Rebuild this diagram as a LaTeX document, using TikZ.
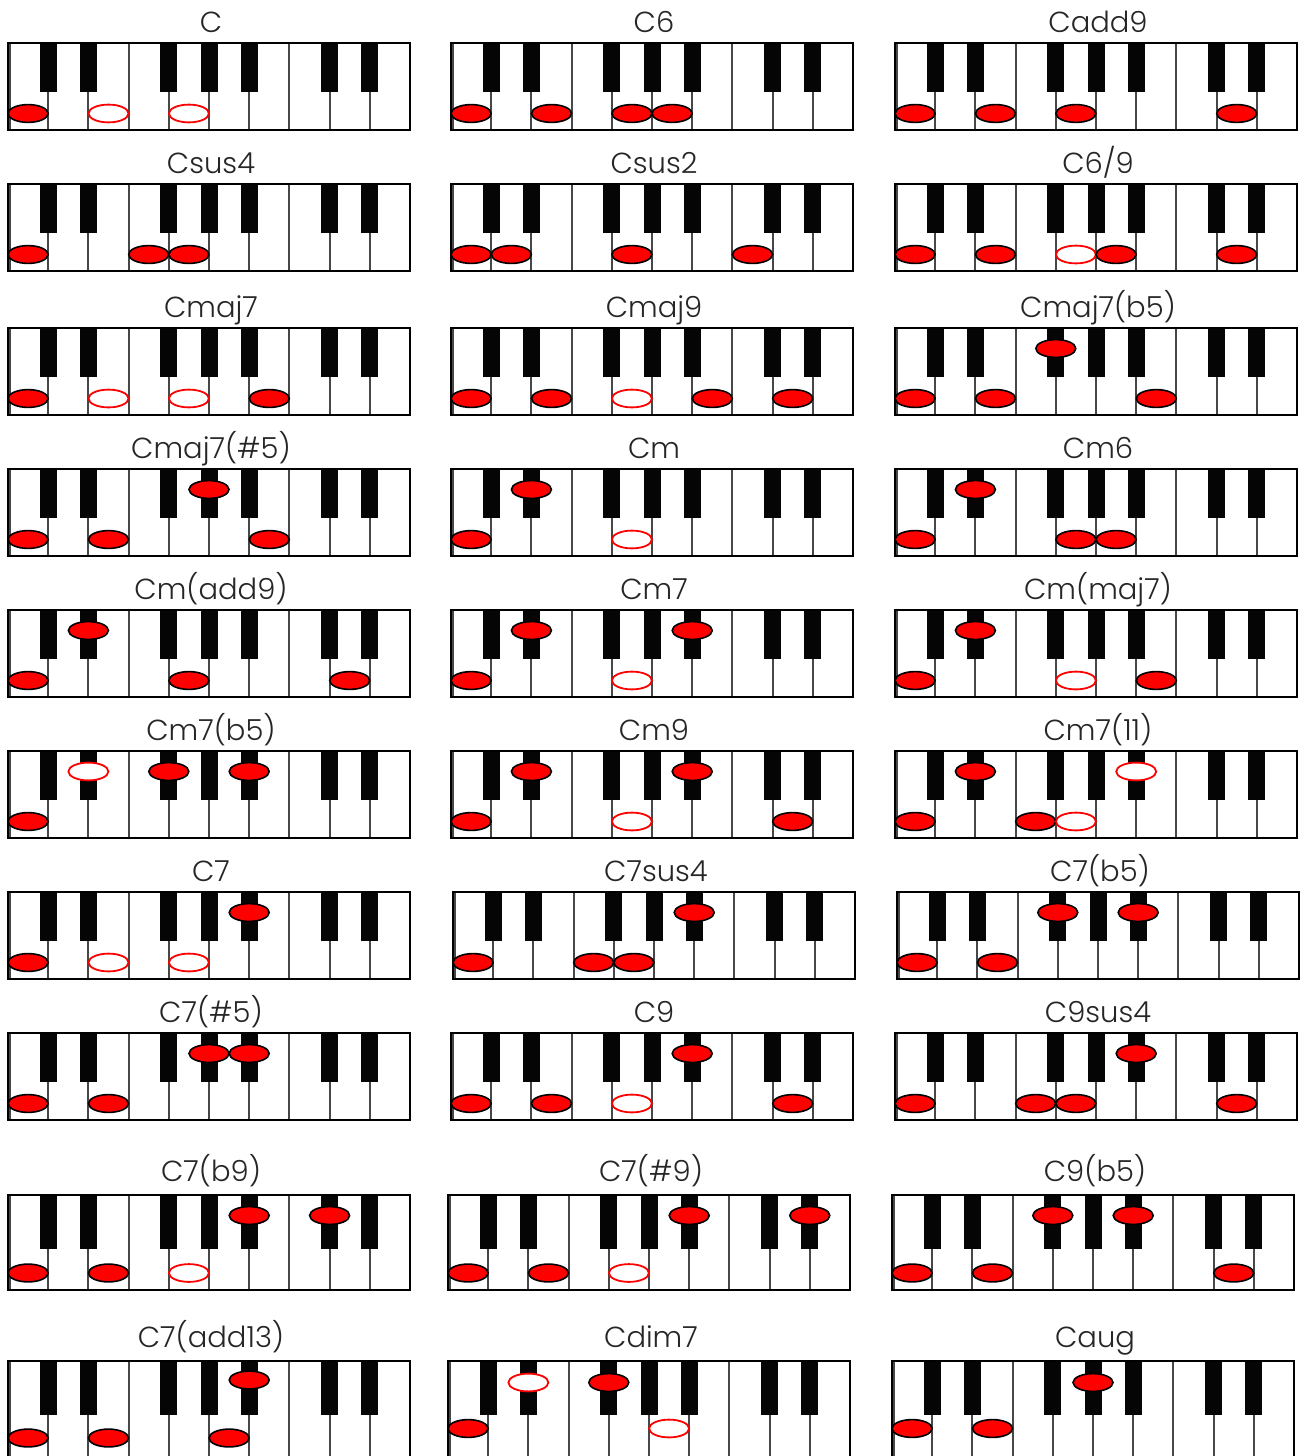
\documentclass[tikz,border=0pt]{standalone}
\usepackage{fontspec}
\setmainfont{Poppins}[UprightFont=* Light]
\definecolor{notered}{RGB}{255,0,0}
\tikzset{
  sep/.style={draw=black!72,line width=2pt},
  bkey/.style={fill=black!98},
  frame/.style={draw=black,line width=1.5pt},
  ttl/.style={font=\fontsize{29}{31}\selectfont,anchor=base,inner sep=0pt,text=black!85},
  nf/.style={fill=notered,draw=black,line width=1.6pt},
  nh/.style={fill=white,draw=notered,line width=1.8pt},
}
\def\W{40.2}
\newcommand\kbrow[4]{\def\kh{#1}\def\kbh{#2}\def\kwy{#3}\def\kby{#4}}
\newcommand\notewf[1]{\draw[nf] ({(#1+0.5)*\W},\kwy) ellipse [x radius=20,y radius=8.9];}
\newcommand\notewh[1]{\draw[nh] ({(#1+0.5)*\W},\kwy) ellipse [x radius=20,y radius=8.9];}
\newcommand\notebf[1]{\draw[nf] ({#1*\W},\kby) ellipse [x radius=20,y radius=8.9];}
\newcommand\notebh[1]{\draw[nh] ({#1*\W},\kby) ellipse [x radius=20,y radius=8.9];}
\newcommand\kb[6]{% x0, top, name, title, title offset, notes
  \begin{scope}[shift={(#1,#2)}]
    \fill[white] (0,0) rectangle (10*\W,\kh);
    \foreach \i in {1,...,9} \draw[sep] (\i*\W,0) -- (\i*\W,\kh);
    \draw[sep] (2,0) -- (2,\kh);
    \foreach \k in {1,2,4,5,6,8,9} \fill[bkey] (\k*\W-8.5,0) rectangle (\k*\W+8.5,\kbh);
    \draw[frame] (0,0) rectangle (10*\W,\kh);
    \node[ttl] (#3) at (5*\W+2,-#5) {#4};
    \foreach \t/\p in {#6} {\csname note\t\endcsname{\p}}
  \end{scope}}
\begin{document}
\begin{tikzpicture}[x=1pt,y=-1pt]
\useasboundingbox (0,0) rectangle (1304,1456);
\clip (0,0) rectangle (1304,1456);
\fill[white] (0,0) rectangle (1304,1456);
% row 1
\kbrow{87}{49}{70.5}{20.5}
\kb{8}{43}{t1}{C}{11}{wf/0,wh/2,wh/4}
\kb{451}{43}{t2}{C6}{11}{wf/0,wf/2,wf/4,wf/5}
\kb{895}{43}{t3}{Cadd9}{11}{wf/0,wf/2,wf/4,wf/8}
% row 2
\kb{8}{184}{t4}{Csus4}{11}{wf/0,wf/3,wf/4}
\kb{451}{184}{t5}{Csus2}{11}{wf/0,wf/1,wf/4,wf/7}
\kb{895}{184}{t6}{C6/9}{11}{wf/0,wf/2,wh/4,wf/5,wf/8}
% row 3
\kb{8}{328}{t7}{Cmaj7}{11}{wf/0,wh/2,wh/4,wf/6}
\kb{451}{328}{t8}{Cmaj9}{11}{wf/0,wf/2,wh/4,wf/6,wf/8}
\kb{895}{328}{t9}{Cmaj7(b5)}{11}{wf/0,wf/2,bf/4,wf/6}
% row 4
\kb{8}{469}{t10}{Cmaj7(\#5)}{11}{wf/0,wf/2,bf/5,wf/6}
\kb{451}{469}{t11}{Cm}{11}{wf/0,bf/2,wh/4}
\kb{895}{469}{t12}{Cm6}{11}{wf/0,bf/2,wf/4,wf/5}
% row 5
\kb{8}{610}{t13}{Cm(add9)}{11}{wf/0,bf/2,wf/4,wf/8}
\kb{451}{610}{t14}{Cm7}{11}{wf/0,bf/2,wh/4,bf/6}
\kb{895}{610}{t15}{Cm(maj7)}{11}{wf/0,bf/2,wh/4,wf/6}
% row 6
\kb{8}{751}{t16}{Cm7(b5)}{11}{wf/0,bh/2,bf/4,bf/6}
\kb{451}{751}{t17}{Cm9}{11}{wf/0,bf/2,wh/4,bf/6,wf/8}
\kb{895}{751}{t18}{Cm7(11)}{11}{wf/0,bf/2,wf/3,wh/4,bh/6}
% row 7
\kb{8}{892}{t19}{C7}{11}{wf/0,wh/2,wh/4,bf/6}
\kb{453}{892}{t20}{C7sus4}{11}{wf/0,wf/3,wf/4,bf/6}
\kb{897}{892}{t21}{C7(b5)}{11}{wf/0,wf/2,bf/4,bf/6}
% row 8
\kb{8}{1033}{t22}{C7(\#5)}{11}{wf/0,wf/2,bf/5,bf/6}
\kb{451}{1033}{t23}{C9}{11}{wf/0,wf/2,wh/4,bf/6,wf/8}
\kb{895}{1033}{t24}{C9sus4}{11}{wf/0,wf/3,wf/4,bf/6,wf/8}
% row 9
\kbrow{95}{54}{78}{20.5}
\kb{8}{1195}{t25}{C7(b9)}{13.5}{wf/0,wf/2,wh/4,bf/6,bf/8}
\kb{448}{1195}{t26}{C7(\#9)}{13.5}{wf/0,wf/2,wh/4,bf/6,bf/9}
\kb{892}{1195}{t27}{C9(b5)}{13.5}{wf/0,wf/2,bf/4,bf/6,wf/8}
% row 10
\kbrow{120}{54}{77}{19}
\kb{8}{1361}{t28}{C7(add13)}{13.5}{wf/0,wf/2,wf/5,bf/6}
\kbrow{120}{54}{67.5}{21.5}
\kb{448}{1361}{t29}{Cdim7}{13.5}{wf/0,bh/2,bf/4,wh/5}
\kb{892}{1361}{t30}{Caug}{13.5}{wf/0,wf/2,bf/5}
\end{tikzpicture}
\end{document}
